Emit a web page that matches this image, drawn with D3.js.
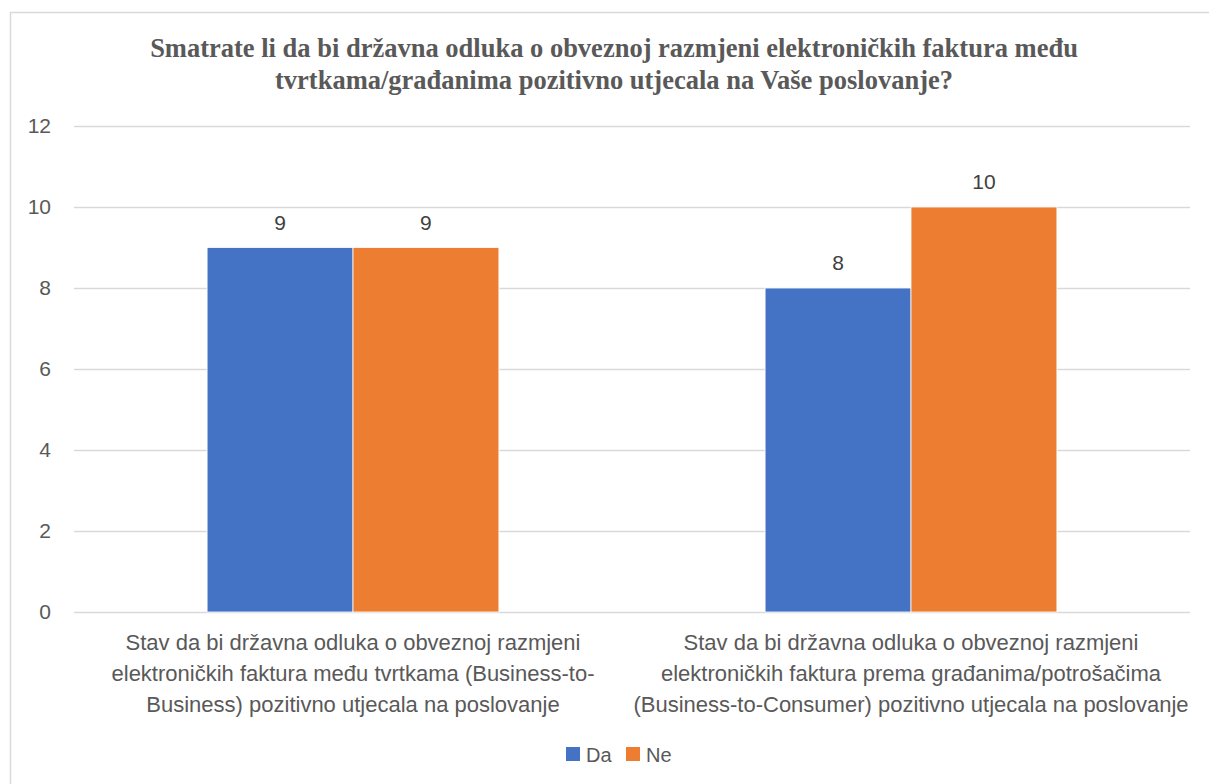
<!DOCTYPE html>
<html>
<head>
<meta charset="utf-8">
<script src="https://cdn.jsdelivr.net/npm/d3@7"></script>
<style>
	body { margin: 0; background: #fff; }
	svg { display: block; }
</style>
</head>
<body>
<svg id="chart" width="1209" height="784"></svg>
<script>
const titleLines = [
	'Smatrate li da bi državna odluka o obveznoj razmjeni elektroničkih faktura među',
	'tvrtkama/građanima pozitivno utjecala na Vaše poslovanje?'
];
const categories = ['B2B', 'B2C'];
const categoryLabels = [
	['Stav da bi državna odluka o obveznoj razmjeni', 'elektroničkih faktura među tvrtkama (Business-to-', 'Business) pozitivno utjecala na poslovanje'],
	['Stav da bi državna odluka o obveznoj razmjeni', 'elektroničkih faktura prema građanima/potrošačima', '(Business-to-Consumer) pozitivno utjecala na poslovanje']
];
const seriesNames = ['Da', 'Ne'];
const daValues = [9, 8];
const neValues = [9, 10];
const yTicks = [0, 2, 4, 6, 8, 10, 12];

const colors = ['#4472c4', '#ed7d31'];
const svg = d3.select('#chart');

// outer chart frame (runs off the right / bottom edge)
svg.append('rect')
	.attr('x', 10.5).attr('y', 12.5)
	.attr('width', 1300).attr('height', 900)
	.attr('fill', 'none').attr('stroke', '#d9d9d9').attr('stroke-width', 1.5);

const margin = { top: 126, left: 74 };
const width = 1116;
const height = 486;

const g = svg.append('g')
	.attr('transform', 'translate(' + margin.left + ',' + margin.top + ')');

const x0 = d3.scaleBand().domain(categories).range([0, width])
	.paddingInner(0.477).paddingOuter(0.2385);
const x1 = d3.scaleBand().domain(seriesNames).range([0, x0.bandwidth()]);
const y = d3.scaleLinear().domain([0, 12]).range([height, 0]);

const yAxis = g.append('g')
	.call(d3.axisLeft(y).tickValues(yTicks).tickSize(-width).tickPadding(23));
yAxis.select('.domain').remove();
yAxis.selectAll('.tick line').attr('stroke', '#d9d9d9').attr('stroke-width', 1.5);
yAxis.selectAll('.tick text')
	.attr('fill', '#595959')
	.style('font', '21px "Liberation Sans", Arial, sans-serif');

const rows = categories.map((c, i) => ({
	cat: c,
	values: [
		{ key: seriesNames[0], value: daValues[i] },
		{ key: seriesNames[1], value: neValues[i] }
	]
}));

const groups = g.selectAll('.cat').data(rows).enter()
	.append('g')
	.attr('class', 'cat')
	.attr('transform', d => 'translate(' + x0(d.cat) + ',0)');

groups.selectAll('rect').data(d => d.values).enter()
	.append('rect')
	.attr('x', d => x1(d.key))
	.attr('y', d => y(d.value))
	.attr('width', x1.bandwidth())
	.attr('height', d => height - y(d.value))
	.attr('fill', (d, i) => colors[i])
	.attr('stroke', '#fff')
	.attr('stroke-width', 0.8);

groups.selectAll('.val').data(d => d.values).enter()
	.append('text')
	.attr('class', 'val')
	.attr('x', d => x1(d.key) + x1.bandwidth() / 2)
	.attr('y', d => y(d.value) - 18)
	.attr('text-anchor', 'middle')
	.attr('fill', '#404040')
	.style('font', '21px "Liberation Sans", Arial, sans-serif')
	.text(d => d.value);

// category labels
const catText = g.selectAll('.catLabel').data(categories).enter()
	.append('text')
	.attr('class', 'catLabel')
	.attr('x', d => x0(d) + x0.bandwidth() / 2)
	.attr('y', height + 38)
	.attr('text-anchor', 'middle')
	.attr('fill', '#595959')
	.style('font', '22px "Liberation Sans", Arial, sans-serif');
catText.selectAll('tspan').data((d, i) => categoryLabels[i]).enter()
	.append('tspan')
	.attr('x', function() { return this.parentNode.getAttribute('x'); })
	.attr('dy', (d, i) => i === 0 ? 0 : 31)
	.text(d => d);

// title
svg.append('text')
	.attr('x', 614)
	.attr('y', 57)
	.attr('text-anchor', 'middle')
	.attr('fill', '#595959')
	.style('font', 'bold 26.5px "Liberation Serif", "Times New Roman", serif')
	.selectAll('tspan').data(titleLines).enter()
	.append('tspan')
	.attr('x', 614)
	.attr('dy', (d, i) => i === 0 ? 0 : 32)
	.text(d => d);

// legend
const legend = svg.append('g').attr('transform', 'translate(566,747)');
const legendX = [0, 60];
const items = legend.selectAll('g').data(seriesNames).enter()
	.append('g')
	.attr('transform', (d, i) => 'translate(' + legendX[i] + ',0)');
items.append('rect')
	.attr('width', 14).attr('height', 14)
	.attr('fill', (d, i) => colors[i]);
items.append('text')
	.attr('x', 20).attr('y', 15)
	.attr('fill', '#595959')
	.style('font', '20px "Liberation Sans", Arial, sans-serif')
	.text(d => d);
</script>
</body>
</html>
